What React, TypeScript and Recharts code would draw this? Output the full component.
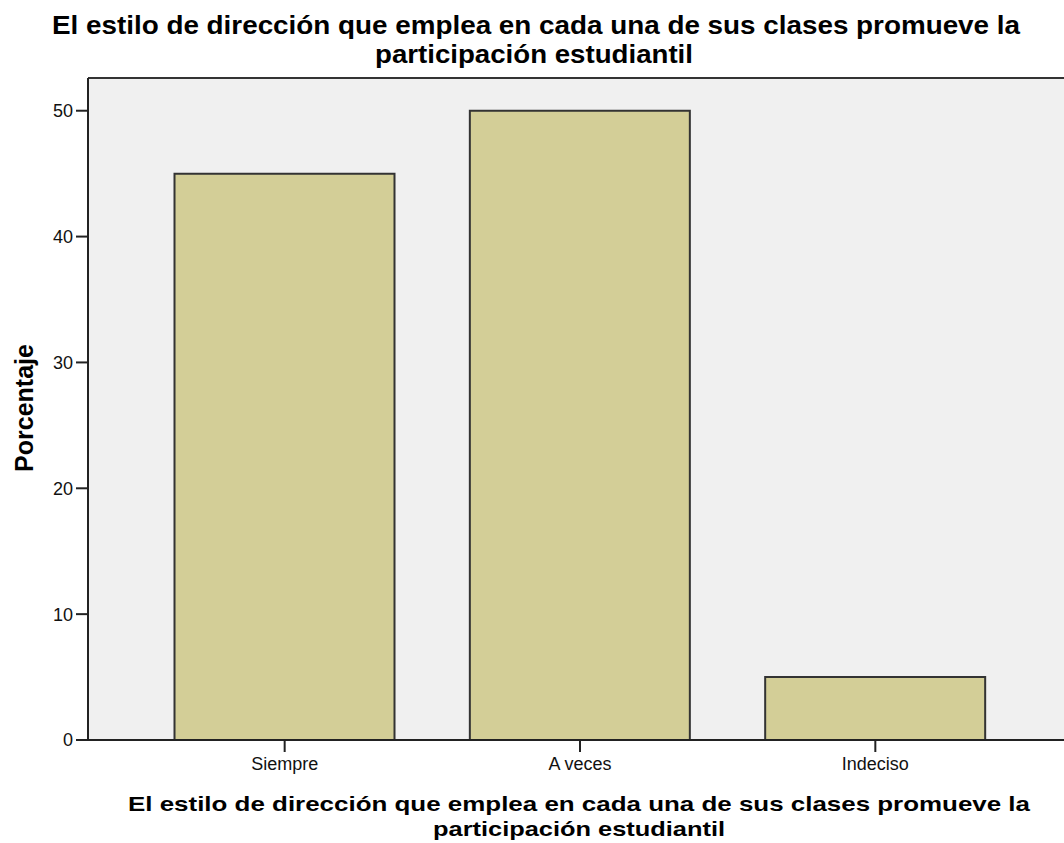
import { Bar, BarChart, CartesianGrid, ReferenceLine, XAxis, YAxis, Label } from 'recharts';

const categories = ['Siempre', 'A veces', 'Indeciso'];
const percentages = [45, 50, 5];
const yTicks = [0, 10, 20, 30, 40, 50];
const yMax = 52.6;

const data = categories.map((c, i) => ({ category: c, pct: percentages[i] }));

const titleLine1 = 'El estilo de dirección que emplea en cada una de sus clases promueve la';
const titleLine2 = 'participación estudiantil';
const font = '"Liberation Sans", Arial, sans-serif';

export default function App() {
  return (
    <div style={{ position: 'absolute', left: 0, top: 0, width: 1080, height: 843, background: '#fff' }}>
      <svg width={1080} height={70} style={{ position: 'absolute', left: 0, top: 0 }}>
        <text textAnchor="middle" fontWeight="bold" fontSize={25} fill="#000" fontFamily={font}>
          <tspan x={536} y={34} textLength={968} lengthAdjust="spacingAndGlyphs">{titleLine1}</tspan>
          <tspan x={534} y={63} textLength={318} lengthAdjust="spacingAndGlyphs">{titleLine2}</tspan>
        </text>
      </svg>
      <BarChart
        width={1080}
        height={843}
        data={data}
        margin={{ top: 78, right: 8, bottom: 0, left: 28 }}
        barCategoryGap="12.7%"
      >
        <CartesianGrid fill="#f0f0f0" horizontal={false} vertical={false} />
        <ReferenceLine y={yMax} stroke="#333" strokeWidth={2} />
        <XAxis
          dataKey="category"
          height={103}
          padding={{ left: 49, right: 49 }}
          stroke="#222"
          strokeWidth={2}
          tickSize={12}
          tickMargin={5}
          tick={{ fill: '#111', fontSize: 18, fontFamily: font }}
        >
          <Label
            position="insideBottom"
            content={() => (
              <text textAnchor="middle" fontWeight="bold" fontSize={21} fill="#000" fontFamily={font}>
                <tspan x={579} y={811} textLength={902} lengthAdjust="spacingAndGlyphs">{titleLine1}</tspan>
                <tspan x={579} y={836} textLength={292} lengthAdjust="spacingAndGlyphs">{titleLine2}</tspan>
              </text>
            )}
          />
        </XAxis>
        <YAxis
          domain={[0, yMax]}
          ticks={yTicks}
          allowDataOverflow
          stroke="#222"
          strokeWidth={2}
          tickSize={12}
          tickMargin={3}
          width={60}
          tick={{ fill: '#111', fontSize: 18, fontFamily: font }}
        >
          <Label
            position="insideLeft"
            content={() => (
              <text x={33} y={408} transform="rotate(-90 33 408)" textAnchor="middle" fontWeight="bold" fontSize={25} fill="#000" fontFamily={font}>
                Porcentaje
              </text>
            )}
          />
        </YAxis>
        <Bar dataKey="pct" fill="#d3ce97" stroke="#333" strokeWidth={2} isAnimationActive={false} />
      </BarChart>
    </div>
  );
}
